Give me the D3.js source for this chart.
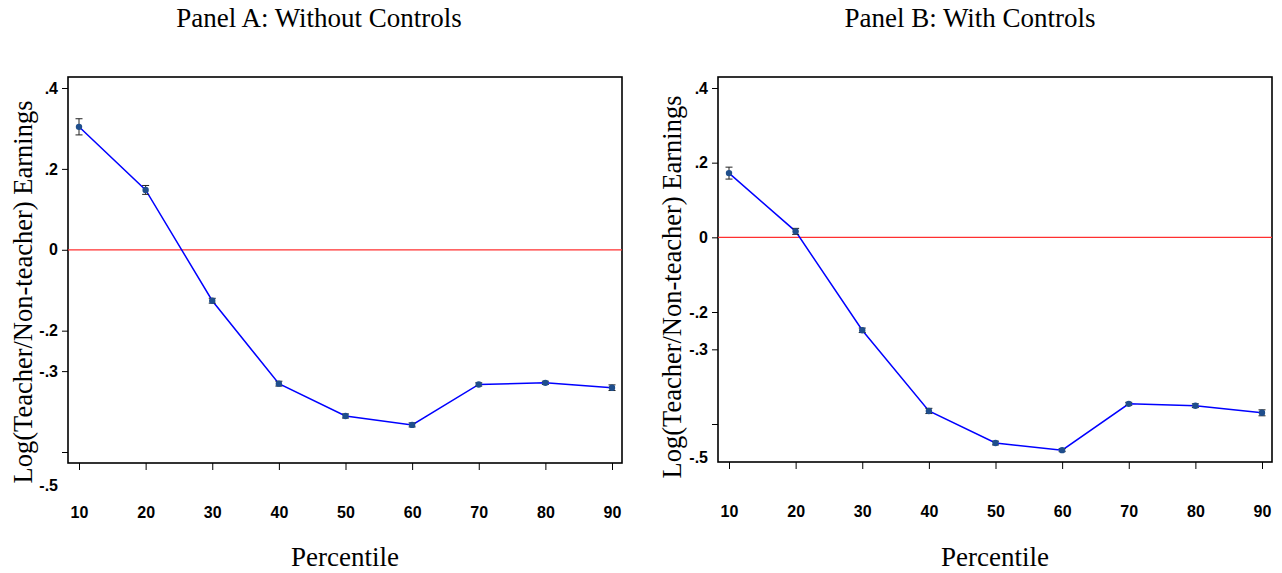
<!DOCTYPE html>
<html>
<head>
<meta charset="utf-8">
<script src="https://cdn.jsdelivr.net/npm/d3@7"></script>
<style>
  body { margin: 0; background: #fff; }
  .title, .ylab, .xlab { font-family: "Liberation Serif", "Times New Roman", serif; fill: #000; }
</style>
</head>
<body>
<div id="chart"></div>
<script>
// percentiles on the x axis
var percentiles = [10, 20, 30, 40, 50, 60, 70, 80, 90];

// Panel A: without controls (estimate and half-width of the error bar)
var panelAValues = [0.304, 0.148, -0.126, -0.331, -0.411, -0.433, -0.333, -0.329, -0.341];
var panelAErr    = [0.020, 0.011, 0.006, 0.006, 0.005, 0.005, 0.004, 0.004, 0.007];

// Panel B: with controls
var panelBValues = [0.172, 0.016, -0.249, -0.465, -0.551, -0.570, -0.446, -0.451, -0.470];
var panelBErr    = [0.016, 0.008, 0.006, 0.007, 0.005, 0.004, 0.004, 0.005, 0.008];

// y tick values and their labels as printed
var yTicks = [0.4, 0.2, 0, -0.2, -0.3, -0.5];
var yTickLabels = [".4", ".2", "0", "-.2", "-.3", ""];

var titles = ["Panel  A:  Without Controls", "Panel B: With Controls"];

var tickFont = "16px";

var W = 1282, H = 573;
var svg = d3.select("#chart").append("svg")
    .attr("width", W)
    .attr("height", H);

function styleTicks(sel) {
    sel.selectAll(".tick text")
        .attr("font-family", null).attr("font-size", null)
        .style("font-family", "'Liberation Sans', Arial, sans-serif")
        .style("font-weight", "bold")
        .style("font-size", tickFont);
}

function drawPanel(opts) {
    var g = svg.append("g");

    var x = d3.scaleLinear().domain([10, 90]).range([opts.left + 11, opts.right - 10]);
    var y = d3.scaleLinear().domain([0.4, -0.5]).range([opts.yTop, opts.yBottom]);

    // frame
    g.append("rect")
        .attr("x", opts.left).attr("y", opts.top)
        .attr("width", opts.right - opts.left)
        .attr("height", opts.bottom - opts.top)
        .attr("fill", "none").attr("stroke", "#000").attr("stroke-width", 1.6);

    // y axis
    var yAxis = g.append("g")
        .attr("transform", "translate(" + opts.left + ",0)")
        .call(d3.axisLeft(y).tickValues(yTicks).tickSize(6).tickPadding(4)
            .tickFormat(function(d, i) { return yTickLabels[i]; }));
    yAxis.select(".domain").remove();
    styleTicks(yAxis);

    // the "-.5" label sits below its tick in the original
    g.append("text")
        .attr("x", opts.left - 10)
        .attr("y", y(-0.5) + opts.minusFiveShift)
        .attr("dy", ".35em")
        .attr("text-anchor", "end")
        .style("font-family", "'Liberation Sans', Arial, sans-serif")
        .style("font-weight", "bold")
        .style("font-size", tickFont)
        .text("-.5");

    // x axis
    var xAxis = g.append("g")
        .attr("transform", "translate(0," + opts.bottom + ")")
        .call(d3.axisBottom(x).tickValues(percentiles).tickSize(7).tickPadding(35)
            .tickFormat(d3.format("d")));
    xAxis.select(".domain").remove();
    xAxis.selectAll(".tick text").attr("y", 49).attr("dy", ".35em");
    styleTicks(xAxis);

    // zero line
    g.append("line")
        .attr("x1", opts.left).attr("x2", opts.right)
        .attr("y1", y(0)).attr("y2", y(0))
        .attr("stroke", "#ff3030").attr("stroke-width", 1.2);

    var data = percentiles.map(function(p, i) {
        return { p: p, v: opts.values[i], e: opts.err[i] };
    });

    // connecting line
    g.append("path")
        .datum(data)
        .attr("fill", "none")
        .attr("stroke", "#0000ff")
        .attr("stroke-width", 1.5)
        .attr("d", d3.line().x(function(d) { return x(d.p); }).y(function(d) { return y(d.v); }));

    // error bars
    var bars = g.selectAll(".err").data(data).enter().append("g").attr("class", "err");
    bars.append("line")
        .attr("x1", function(d) { return x(d.p); }).attr("x2", function(d) { return x(d.p); })
        .attr("y1", function(d) { return y(d.v + d.e); }).attr("y2", function(d) { return y(d.v - d.e); })
        .attr("stroke", "#222").attr("stroke-width", 1);
    bars.append("line")
        .attr("x1", function(d) { return x(d.p) - 3.5; }).attr("x2", function(d) { return x(d.p) + 3.5; })
        .attr("y1", function(d) { return y(d.v + d.e); }).attr("y2", function(d) { return y(d.v + d.e); })
        .attr("stroke", "#222").attr("stroke-width", 1);
    bars.append("line")
        .attr("x1", function(d) { return x(d.p) - 3.5; }).attr("x2", function(d) { return x(d.p) + 3.5; })
        .attr("y1", function(d) { return y(d.v - d.e); }).attr("y2", function(d) { return y(d.v - d.e); })
        .attr("stroke", "#222").attr("stroke-width", 1);

    // points
    g.selectAll(".pt").data(data).enter().append("circle")
        .attr("class", "pt")
        .attr("cx", function(d) { return x(d.p); })
        .attr("cy", function(d) { return y(d.v); })
        .attr("r", 3.2)
        .attr("fill", "#1f4e8c");

    // titles
    svg.append("text").attr("class", "title")
        .attr("x", opts.titleX).attr("y", 27)
        .attr("text-anchor", "middle")
        .style("font-size", "27px")
        .text(opts.title);

    svg.append("text").attr("class", "xlab")
        .attr("x", (opts.left + opts.right) / 2).attr("y", 566)
        .attr("text-anchor", "middle")
        .style("font-size", "27px")
        .text("Percentile");

    svg.append("text").attr("class", "ylab")
        .attr("transform", "translate(" + opts.ylabX + "," + opts.ylabY + ") rotate(-90)")
        .attr("text-anchor", "middle")
        .style("font-size", "26.5px")
        .text("Log(Teacher/Non-teacher) Earnings");
}

drawPanel({
    left: 68, right: 622, top: 77, bottom: 463,
    yTop: 88, yBottom: 452,
    values: panelAValues, err: panelAErr,
    minusFiveShift: 33,
    title: titles[0], titleX: 319,
    ylabX: 32, ylabY: 292
});

drawPanel({
    left: 718, right: 1272, top: 77, bottom: 462,
    yTop: 88, yBottom: 424,
    values: panelBValues, err: panelBErr,
    minusFiveShift: 33,
    title: titles[1], titleX: 970,
    ylabX: 681, ylabY: 287
});
</script>
</body>
</html>
